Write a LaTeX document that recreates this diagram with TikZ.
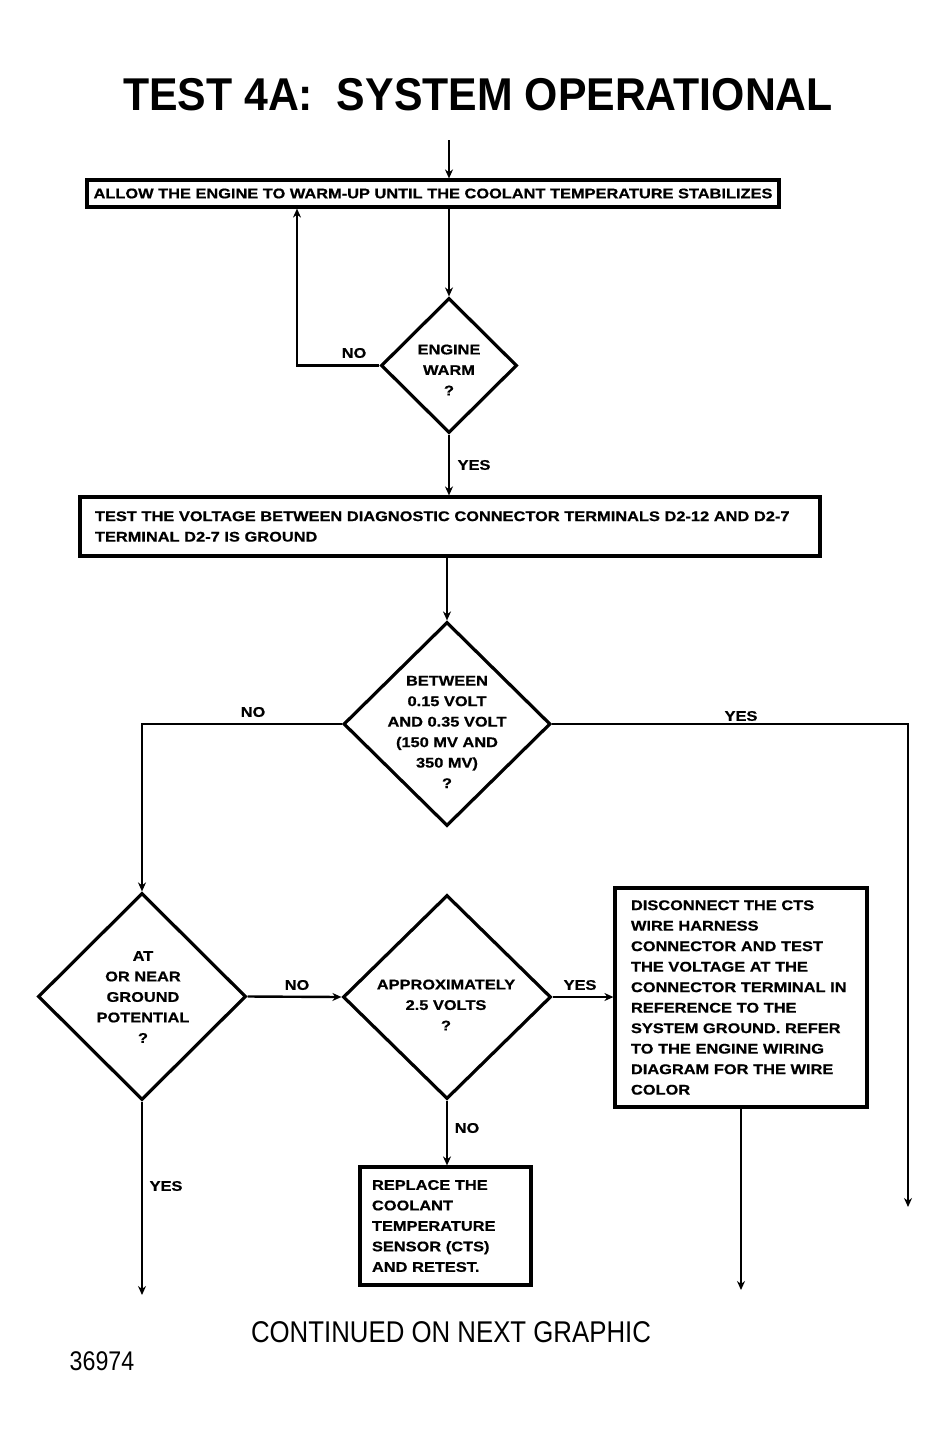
\documentclass[tikz,border=0pt]{standalone}
\usepackage{fontspec}
\setmainfont{Liberation Sans}[FakeStretch=1.17]
\newfontfamily\titlefont{Liberation Sans Bold}[FakeStretch=0.93]
\newfontfamily\bodyfam{Liberation Sans Bold}[FakeStretch=1.17, FakeBold=0.7]
\newfontfamily\plainfont{Liberation Sans}[FakeStretch=0.86]
\usetikzlibrary{shapes.geometric,arrows.meta}
\newcommand\dfont{\bodyfam\fontsize{14}{20.5}\selectfont}
\begin{document}
\begin{tikzpicture}[x=1pt,y=-1pt,
  box/.style={draw, line width=3.2pt, inner sep=0pt, font=\dfont},
  dia/.style={draw, diamond, line width=3.2pt, inner sep=0pt},
  dtext/.style={align=center, font=\dfont, inner sep=0pt},
  lab/.style={font=\dfont, inner sep=0pt},
  conn/.style={line width=2.4pt},
  arr/.style={conn, -{Stealth[length=9pt,width=8pt]}}]
\useasboundingbox[fill=white] (0,0) rectangle (950,1443);

% title
\node[inner sep=0pt, font=\titlefont\fontsize{46}{46}\selectfont] (title) at (478,95) {TEST 4A:\ \ SYSTEM OPERATIONAL};

% boxes
\node[box, minimum width=692pt, minimum height=27pt] (b1) at (433,193.5)
  {ALLOW THE ENGINE TO WARM-UP UNTIL THE COOLANT TEMPERATURE STABILIZES};
\node[box, minimum width=740pt, minimum height=59pt, text width=710pt, align=left] (b2) at (450,526.5)
  {TEST THE VOLTAGE BETWEEN DIAGNOSTIC CONNECTOR TERMINALS D2-12 AND D2-7\\
   TERMINAL D2-7 IS GROUND};
\node[box, minimum width=252pt, minimum height=219pt, text width=220pt, align=left] (b3) at (741,997.5)
  {DISCONNECT THE CTS\\WIRE HARNESS\\CONNECTOR AND TEST\\THE VOLTAGE AT THE\\CONNECTOR TERMINAL IN\\REFERENCE TO THE\\SYSTEM GROUND. REFER\\TO THE ENGINE WIRING\\DIAGRAM FOR THE WIRE\\COLOR};
\node[box, minimum width=171pt, minimum height=118pt, text width=147pt, align=left] (b4) at (445.5,1226)
  {REPLACE THE\\COOLANT\\TEMPERATURE\\SENSOR (CTS)\\AND RETEST.};

% diamonds
\node[dia, minimum width=136pt, minimum height=135pt] (d1) at (449,365.5) {};
\node[dtext] (t1) at (449,370) {ENGINE\\WARM\\?};
\node[dia, minimum width=207pt, minimum height=204pt] (d2) at (447,724) {};
\node[dtext] (t2) at (447,732) {BETWEEN\\0.15 VOLT\\AND 0.35 VOLT\\(150 MV AND\\350 MV)\\?};
\node[dia, minimum width=208pt, minimum height=207pt] (d3) at (142,996.5) {};
\node[dtext] (t3) at (143,997) {AT\\OR NEAR\\GROUND\\POTENTIAL\\?};
\node[dia, minimum width=208pt, minimum height=204pt] (d4) at (447,997) {};
\node[dtext] (t4) at (446,1005) {APPROXIMATELY\\2.5 VOLTS\\?};

% coordinates
\coordinate (top) at (449,140);
\coordinate (lp) at (297,365.5);
\coordinate (yr) at (908,724);
\coordinate (yend) at (908,1207);
\coordinate (b3end) at (741,1290);
\coordinate (d3end) at (142,1295);

% connectors
\draw[arr] (top) -- (top |- b1.north);
\draw[arr] (d1.north |- b1.south) -- (d1.north);
\draw[arr] (d1.west) -- (lp) -- (lp |- b1.south);
\draw[arr] (d1.south) -- (d1.south |- b2.north);
\draw[arr] (d2.north |- b2.south) -- (d2.north);
\draw[arr] (d2.west) -- (d2.west -| d3.north) -- (d3.north);
\draw[arr] (d2.east) -- (yr) -- (yend);
\draw[arr] (d3.east) -- (d4.west);
\draw[arr] (d4.east) -- (d4.east -| b3.west);
\draw[arr] (b3.south -| b3end) -- (b3end);
\draw[arr] (d4.south) -- (d4.south |- b4.north);
\draw[arr] (d3.south) -- (d3end);

% labels
\node[lab] (l1) at (354,353) {NO};
\node[lab] (l2) at (474,465) {YES};
\node[lab] (l3) at (253,712) {NO};
\node[lab] (l4) at (741,716) {YES};
\node[lab] (l5) at (297,985) {NO};
\node[lab] (l6) at (580,985) {YES};
\node[lab] (l7) at (467,1128) {NO};
\node[lab] (l8) at (166,1186) {YES};

% footer
\node[inner sep=0pt, font=\plainfont\fontsize{30}{30}\selectfont] (cont) at (451,1332) {CONTINUED ON NEXT GRAPHIC};
\node[inner sep=0pt, font=\plainfont\fontsize{27}{27}\selectfont] (num) at (102,1361) {36974};
\end{tikzpicture}
\end{document}
